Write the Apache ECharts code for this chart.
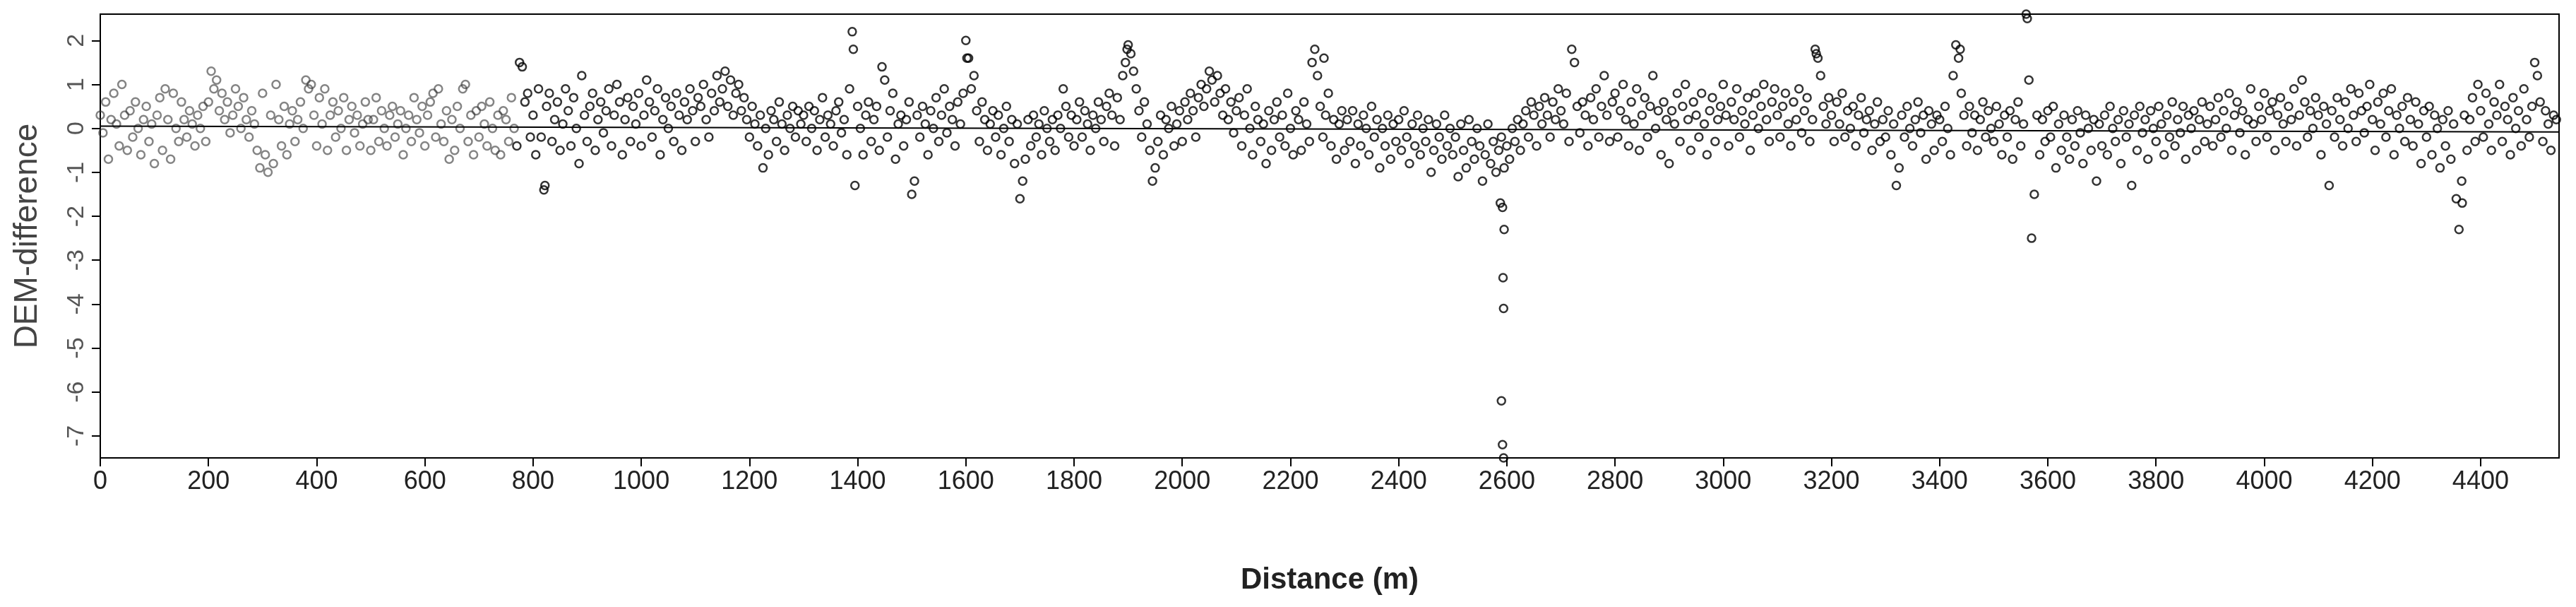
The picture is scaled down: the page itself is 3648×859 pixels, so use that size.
<!DOCTYPE html>
<html><head><meta charset="utf-8">
<script src="https://cdn.jsdelivr.net/npm/echarts@6/dist/echarts.min.js"></script>
<style>html,body{margin:0;padding:0;background:#fff}#c{width:3648px;height:859px}</style>
</head><body><div id="c"></div>
<script>
// DEM difference sampled every 5 m; each row covers 100 m
const rowStarts = [0,100,200,300,400,500,600,700,800,900,1000,1100,1200,1300,1400,1500,1600,1700,1800,1900,2000,2100,2200,2300,2400,2500,2600,2700,2800,2900,3000,3100,3200,3300,3400,3500,3600,3700,3800,3900,4000,4100,4200,4300,4400,4500];
const rows = [
[0.3,-0.1,0.6,-0.7,0.2,0.8,0.1,-0.4,1.0,0.3,-0.5,0.4,-0.2,0.6,0.0,-0.6,0.2,0.5,-0.3,0.1],
[-0.8,0.3,0.7,-0.5,0.9,0.2,-0.7,0.8,0.0,-0.3,0.6,0.2,-0.2,0.4,0.1,-0.4,0.3,0.0,0.5,-0.3],
[0.6,1.3,0.9,1.1,0.4,0.8,0.2,0.6,-0.1,0.3,0.9,0.5,0.0,0.7,0.2,-0.2,0.4,0.1,-0.5,-0.9],
[0.8,-0.6,-1.0,0.3,-0.8,1.0,0.2,-0.4,0.5,-0.6,0.1,0.4,-0.3,0.2,0.6,0.0,1.1,0.9,1.0,0.3],
[-0.4,0.7,0.1,0.9,-0.5,0.3,0.6,-0.2,0.4,0.0,0.7,-0.5,0.2,0.5,-0.1,0.3,-0.4,0.1,0.6,0.2],
[-0.5,0.2,0.7,-0.3,0.4,0.0,-0.4,0.3,0.5,-0.2,0.1,0.4,-0.6,0.0,0.3,-0.3,0.7,0.2,-0.1,0.5],
[-0.4,0.3,0.6,0.8,-0.2,0.9,0.1,-0.3,0.4,-0.7,0.2,-0.5,0.5,0.0,0.9,1.0,-0.3,0.3,-0.6,0.4],
[-0.2,0.5,0.1,-0.4,0.6,0.0,-0.5,0.3,-0.6,0.4,0.2,-0.3,0.7,0.0,-0.4,1.5,1.4,0.6,0.8,-0.2],
[0.3,-0.6,0.9,-0.2,-1.4,0.5,0.8,-0.3,0.2,0.6,-0.5,0.1,0.9,0.4,-0.4,0.7,0.0,-0.8,1.2,0.3],
[-0.3,0.5,0.8,-0.5,0.2,0.6,-0.1,0.4,0.9,-0.4,0.3,1.0,0.6,-0.6,0.2,0.7,-0.3,0.5,0.1,0.8],
[-0.4,0.3,1.1,0.6,-0.2,0.4,0.9,-0.6,0.2,0.7,0.0,0.5,-0.3,0.8,0.3,-0.5,0.6,0.2,0.9,0.4],
[-0.3,0.7,0.5,1.0,0.2,-0.2,0.8,0.4,1.2,0.6,0.9,1.3,0.5,1.1,0.3,0.8,1.0,0.4,0.7,0.2],
[-0.2,0.5,0.1,-0.4,0.3,-0.9,0.0,-0.6,0.4,0.2,-0.3,0.6,0.1,-0.5,0.3,0.0,0.5,-0.2,0.4,0.1],
[0.3,-0.3,0.5,0.0,0.4,-0.5,0.2,0.7,-0.2,0.3,0.1,-0.4,0.4,0.6,-0.1,0.2,-0.6,0.9,2.2,-1.3],
[0.5,0.0,-0.6,0.3,0.6,-0.3,0.2,0.5,-0.5,1.4,1.1,-0.2,0.4,0.8,-0.7,0.1,0.3,-0.4,0.2,0.6],
[-1.5,-1.2,0.3,-0.2,0.5,0.1,-0.6,0.4,0.0,0.7,-0.3,0.3,0.9,-0.1,0.5,0.2,-0.4,0.6,0.1,0.8],
[2.0,1.6,0.9,1.2,0.4,-0.3,0.6,0.2,-0.5,0.1,0.4,-0.2,0.3,-0.6,0.0,0.5,-0.3,0.2,-0.8,0.1],
[-1.6,-1.2,-0.7,0.2,-0.4,0.3,-0.2,0.1,-0.6,0.4,0.0,-0.3,0.2,-0.5,0.3,0.0,0.9,0.5,-0.2,0.3],
[-0.4,0.2,0.6,-0.2,0.4,0.1,-0.5,0.3,0.0,0.6,0.2,-0.3,0.5,0.8,0.3,-0.4,0.7,0.2,1.2,1.5],
[1.9,1.7,1.3,0.9,0.4,-0.2,0.6,0.1,-0.5,-1.2,-0.9,-0.3,0.3,-0.6,0.2,0.0,0.5,-0.4,0.1,0.4],
[-0.3,0.6,0.2,0.8,0.4,-0.2,0.7,1.0,0.5,0.9,1.3,1.1,0.6,1.2,0.8,0.3,0.9,0.2,0.6,-0.1],
[0.4,0.7,-0.4,0.3,0.9,0.0,-0.6,0.5,0.2,-0.3,0.1,-0.8,0.4,-0.5,0.2,0.6,-0.2,0.3,-0.4,0.8],
[0.0,-0.6,0.4,0.2,-0.5,0.6,0.1,-0.3,1.5,1.8,1.2,0.5,-0.2,0.3,0.8,-0.4,0.2,-0.7,0.1,0.4],
[-0.5,0.2,-0.3,0.4,-0.8,0.1,-0.4,0.3,0.0,-0.6,0.5,-0.2,0.2,-0.9,0.0,-0.4,0.3,-0.7,0.1,-0.3],
[0.2,-0.5,0.4,-0.2,-0.8,0.1,-0.4,0.3,-0.6,0.0,-0.3,0.2,-1.0,-0.5,0.1,-0.2,-0.7,0.3,-0.4,0.0],
[-0.6,-0.2,-1.1,0.1,-0.5,-0.9,0.2,-0.3,-0.7,0.0,-0.4,-1.2,-0.6,0.1,-0.8,-0.3,-1.0,-0.5,-0.2,-0.9],
[-0.4,-0.7,0.0,-0.3,0.2,-0.5,0.1,0.4,-0.2,0.6,0.3,-0.4,0.5,0.1,0.7,0.3,-0.2,0.6,0.2,0.9],
[0.4,0.1,0.8,-0.3,1.8,1.5,0.5,-0.1,0.6,0.3,-0.4,0.7,0.2,0.9,-0.2,0.5,1.2,0.3,-0.3,0.6],
[0.8,-0.2,0.4,1.0,0.2,-0.4,0.6,0.1,0.9,-0.5,0.3,0.7,-0.2,0.5,1.2,0.0,0.4,-0.6,0.6,0.2],
[-0.8,0.4,0.1,0.8,-0.3,0.5,1.0,0.2,-0.5,0.6,0.3,-0.2,0.8,0.1,-0.6,0.4,0.7,-0.3,0.2,0.5],
[1.0,0.3,-0.4,0.6,0.2,0.9,-0.2,0.4,0.1,0.7,-0.5,0.3,0.8,0.0,0.5,1.0,0.2,-0.3,0.6,0.9],
[0.3,-0.2,0.5,0.8,0.1,-0.4,0.6,0.2,0.9,-0.1,0.4,0.7,-0.3,0.2,1.8,1.6,1.2,0.5,0.1,0.7],
[0.3,-0.3,0.6,0.1,0.8,-0.2,0.4,0.0,0.5,-0.4,0.3,0.7,-0.1,0.2,0.4,-0.5,0.1,0.6,-0.3,0.2],
[-0.2,0.4,-0.6,0.1,-1.3,-0.9,0.3,-0.2,0.5,0.0,-0.4,0.2,0.6,-0.1,0.3,-0.7,0.4,0.1,-0.5,0.3],
[0.2,-0.3,0.5,0.0,-0.6,1.2,1.9,1.6,0.8,0.3,-0.4,0.5,-0.1,0.3,-0.5,0.2,0.6,-0.2,0.4,0.0],
[-0.3,0.5,0.1,-0.6,0.3,-0.2,0.4,-0.7,0.2,0.6,-0.4,0.1,2.6,1.1,-2.5,-1.5,0.3,-0.6,0.2,-0.3],
[0.4,-0.2,0.5,-0.9,0.1,-0.5,0.3,-0.2,-0.7,0.2,-0.4,0.4,-0.1,-0.8,0.3,0.0,-0.5,0.2,-1.2,0.1],
[-0.4,0.3,-0.6,0.5,0.0,-0.3,0.2,-0.8,0.4,-0.2,0.1,-1.3,0.3,-0.5,0.5,-0.1,0.2,-0.7,0.4,0.0],
[-0.3,0.5,0.1,-0.6,0.3,-0.2,0.6,-0.4,0.2,-0.1,0.5,-0.7,0.3,0.0,0.4,-0.5,0.2,0.6,-0.3,0.1],
[0.5,-0.4,0.2,0.7,-0.2,0.4,0.0,0.8,-0.5,0.3,0.6,-0.1,0.4,-0.6,0.2,0.9,0.1,-0.3,0.5,0.2],
[0.8,-0.2,0.4,0.6,-0.5,0.3,0.7,0.1,-0.3,0.5,0.2,0.9,-0.4,0.3,1.1,0.6,-0.2,0.4,0.0,0.7],
[0.3,-0.6,0.5,0.1,-1.3,0.4,-0.2,0.7,0.2,-0.4,0.6,0.0,0.9,0.3,-0.3,0.8,0.4,-0.1,0.5,1.0],
[0.2,-0.5,0.6,0.1,0.8,-0.2,0.4,0.9,-0.6,0.3,0.0,0.5,-0.3,0.7,0.2,-0.4,0.6,0.1,-0.8,0.4],
[-0.2,0.5,-0.6,0.3,0.0,-0.9,0.2,-0.4,0.4,-0.7,0.1,-1.6,-2.3,-1.2,0.3,-0.5,0.2,0.7,-0.3,1.0],
[0.4,-0.2,0.8,0.1,-0.5,0.6,0.3,1.0,-0.3,0.5,0.2,-0.6,0.7,0.0,0.4,-0.4,0.9,0.2,-0.2,0.5],
[1.5,1.2,0.6,-0.3,0.4,0.1,-0.5,0.3,0.2]
];
const outliers = [[2588,-1.7],[2592,-1.8],[2595,-2.3],[2593,-3.4],[2594,-4.1],[2590,-6.2],[2592,-7.2],[2594,-7.5],[1392,1.8],[3562,2.5],[4366,-1.7],[1602,1.6],[822,-1.3],[1898,1.8],[2262,1.6],[3172,1.7],[3438,1.8]];
const trend = [[0,0.05],[4545,-0.08]];
const yTicks = [-7,-6,-5,-4,-3,-2,-1,0,1,2];
const grayLimit = 770;

const gray = [], black = [];
rowStarts.forEach((s, k) => rows[k].forEach((v, i) => {
  const x = s + 5 * i;
  (x < grayLimit ? gray : black).push([x, v]);
}));
outliers.forEach(p => black.push(p));

const chart = echarts.init(document.getElementById('c'));
const narrow = 'Liberation Sans Narrow, Liberation Sans, Arial';
chart.setOption({
  animation: false,
  grid: {left: 142, right: 24, top: 20, bottom: 211, show: true, borderColor: '#000', borderWidth: 2},
  xAxis: {
    type: 'value', min: 0, max: 4545, interval: 200,
    axisLine: {show: true, onZero: false, lineStyle: {color: '#000', width: 2}},
    axisTick: {show: true, length: 12, lineStyle: {color: '#000', width: 2}},
    axisLabel: {margin: 16, showMaxLabel: false, fontFamily: narrow, fontSize: 36, color: '#222', formatter: v => String(v)},
    splitLine: {show: false},
    name: 'Distance (m)', nameLocation: 'middle', nameGap: 152,
    nameTextStyle: {fontFamily: 'Liberation Sans, Arial', fontSize: 42, fontWeight: 'bold', color: '#222'}
  },
  yAxis: {
    type: 'value', min: -7.5, max: 2.6,
    axisLine: {show: true, lineStyle: {color: '#000', width: 2}},
    axisTick: {show: true, length: 12, customValues: yTicks, lineStyle: {color: '#000', width: 2}},
    axisLabel: {customValues: yTicks, rotate: 90, margin: 16, color: '#555', fontFamily: narrow, fontSize: 34},
    splitLine: {show: false},
    name: 'DEM-difference', nameLocation: 'middle', nameGap: 80,
    nameTextStyle: {fontFamily: 'Liberation Sans, Arial', fontSize: 46, color: '#444'}
  },
  series: [
    {type: 'scatter', data: gray, symbol: 'circle', symbolSize: 11,
     itemStyle: {color: 'rgba(0,0,0,0)', borderColor: 'rgba(50,50,50,0.75)', borderWidth: 2.5}},
    {type: 'scatter', data: black, symbol: 'circle', symbolSize: 11,
     itemStyle: {color: 'rgba(0,0,0,0)', borderColor: '#000', borderWidth: 2.5}},
    {type: 'line', data: trend, symbol: 'none', lineStyle: {color: '#000', width: 2}, z: 3}
  ]
});
</script></body></html>
